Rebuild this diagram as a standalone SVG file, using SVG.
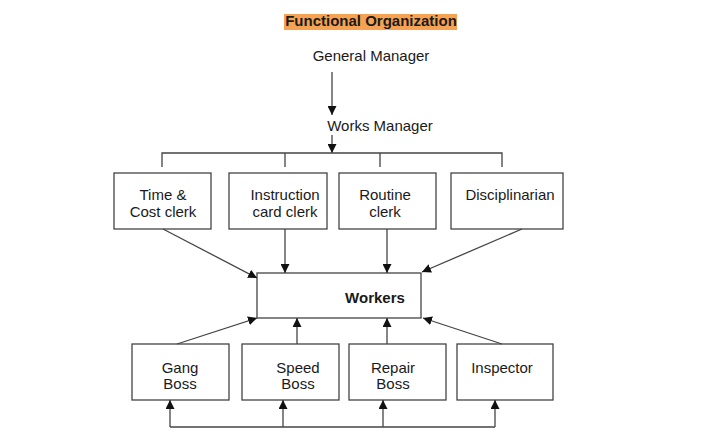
<svg xmlns="http://www.w3.org/2000/svg" width="720" height="441" viewBox="0 0 720 441">
<defs>
<marker id="ah" viewBox="0 0 10 10" refX="10" refY="5" markerWidth="9" markerHeight="9" markerUnits="userSpaceOnUse" orient="auto"><path d="M0,0 L10,5 L0,10 z" fill="#111"/></marker>
<style>
.t{font-family:"Liberation Sans",Arial,sans-serif;font-size:15px;fill:#1a1a1a;text-anchor:middle}
.b{font-weight:bold}
.box{fill:#fff;stroke:#444;stroke-width:1.3}
.ln{fill:none;stroke:#444;stroke-width:1.3}
.ar{fill:none;stroke:#444;stroke-width:1.3;marker-end:url(#ah)}
</style>
</defs>
<rect width="720" height="441" fill="#fff"/>
<g id="title">
<rect x="284" y="14" width="173" height="16" fill="#F6A253"/>
<text class="t b" x="371" y="26">Functional Organization</text>
</g>
<g id="general-manager"><text class="t" x="371" y="61">General Manager</text></g>
<g id="works-manager"><text class="t" x="380" y="131">Works Manager</text></g>
<g id="time-cost"><rect class="box" x="114" y="173" width="97" height="56"/><text class="t" x="163" y="200">Time &amp;</text><text class="t" x="163" y="217">Cost clerk</text></g>
<g id="instruction"><rect class="box" x="229" y="173" width="98" height="56"/><text class="t" x="285" y="200">Instruction</text><text class="t" x="285" y="217">card clerk</text></g>
<g id="routine"><rect class="box" x="339" y="173" width="97" height="56"/><text class="t" x="385" y="200">Routine</text><text class="t" x="385" y="217">clerk</text></g>
<g id="disciplinarian"><rect class="box" x="451" y="173" width="112" height="56"/><text class="t" x="510" y="200">Disciplinarian</text></g>
<g id="workers"><rect class="box" x="257" y="273" width="164" height="45"/><text class="t b" x="375" y="303">Workers</text></g>
<g id="gang-boss"><rect class="box" x="132" y="344" width="97" height="56"/><text class="t" x="180" y="373">Gang</text><text class="t" x="180" y="389">Boss</text></g>
<g id="speed-boss"><rect class="box" x="242" y="344" width="97" height="56"/><text class="t" x="298" y="373">Speed</text><text class="t" x="298" y="389">Boss</text></g>
<g id="repair-boss"><rect class="box" x="349" y="344" width="97" height="56"/><text class="t" x="393" y="373">Repair</text><text class="t" x="393" y="389">Boss</text></g>
<g id="inspector"><rect class="box" x="457" y="344" width="96" height="56"/><text class="t" x="502" y="373">Inspector</text></g>
<g id="connectors">
<line class="ar" x1="332" y1="72" x2="332" y2="115"/>
<line class="ar" x1="332" y1="135" x2="332" y2="153"/>
<path class="ln" d="M162,167 V153 H502 V167 M285,153 V167 M380,153 V167"/>
<line class="ar" x1="163" y1="229" x2="257" y2="278"/>
<line class="ar" x1="285" y1="229" x2="285" y2="273"/>
<line class="ar" x1="387" y1="229" x2="387" y2="273"/>
<line class="ar" x1="522" y1="229" x2="422" y2="272"/>
<line class="ar" x1="177" y1="344" x2="257" y2="318"/>
<line class="ar" x1="297" y1="344" x2="297" y2="318"/>
<line class="ar" x1="387" y1="344" x2="387" y2="318"/>
<line class="ar" x1="502" y1="344" x2="423" y2="318"/>
<path class="ln" d="M170,427 H495"/>
<line class="ar" x1="170" y1="427" x2="170" y2="400"/>
<line class="ar" x1="283" y1="427" x2="283" y2="400"/>
<line class="ar" x1="383" y1="427" x2="383" y2="400"/>
<line class="ar" x1="495" y1="427" x2="495" y2="400"/>
</g>
</svg>
